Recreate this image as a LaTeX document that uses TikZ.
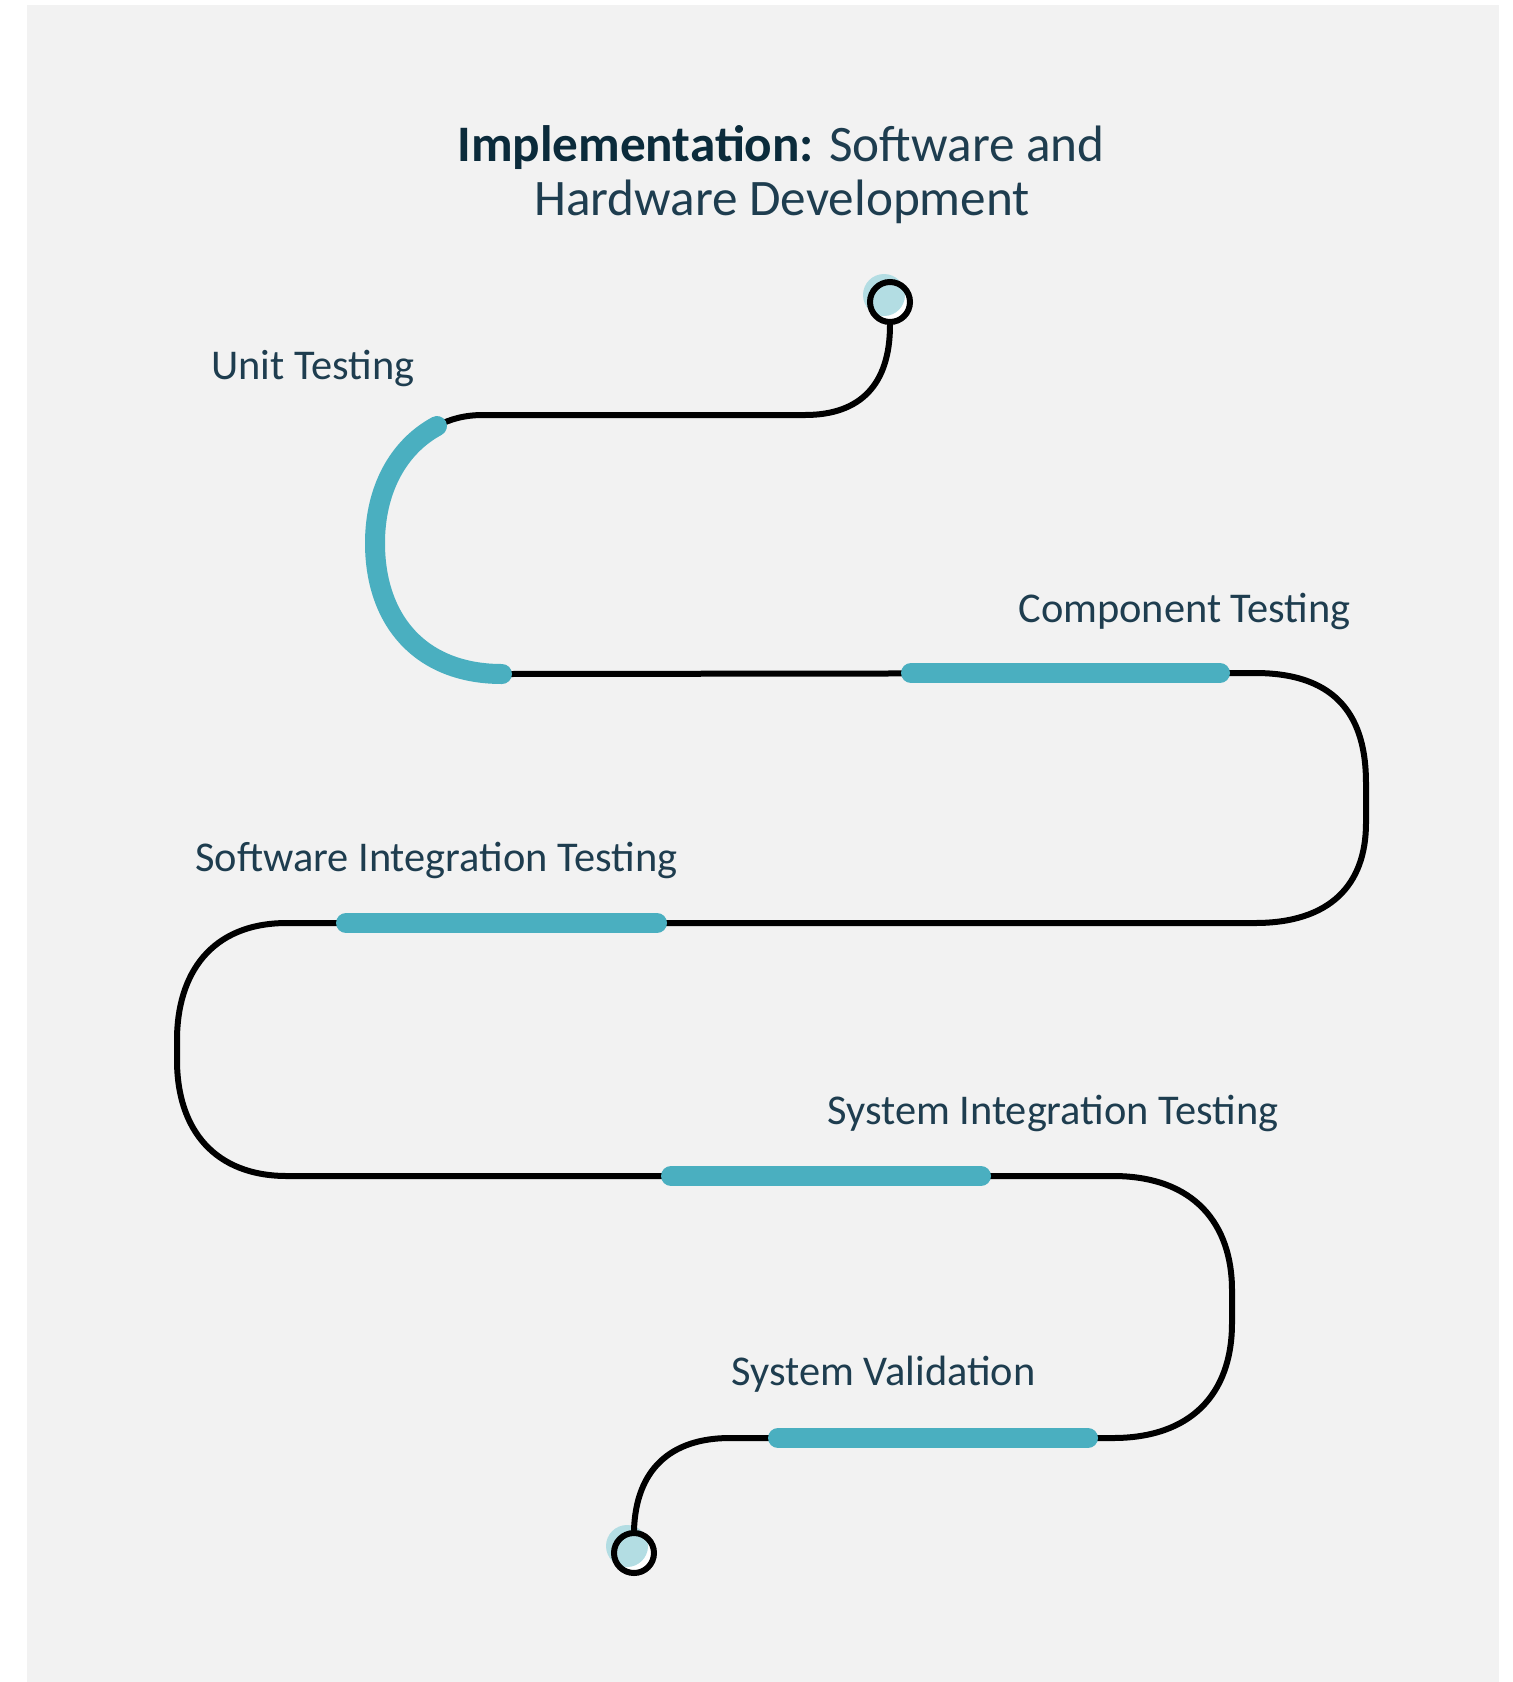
\documentclass[tikz,border=0pt]{standalone}
\usepackage{fontspec}
\setmainfont{Carlito}
\definecolor{bgc}{HTML}{F2F2F2}
\definecolor{tealc}{HTML}{4AAFC0}
\definecolor{lblue}{HTML}{B3DDE3}
\definecolor{txtc}{HTML}{1E3D4F}
\definecolor{titc}{HTML}{0B2B3B}
\tikzset{
  blackpath/.style={line width=3pt, black, line cap=round, line join=round},
  tealseg/.style={line width=10pt, tealc, line cap=round},
  label/.style={anchor=base west, inner sep=0pt, text=txtc, font=\fontsize{21.2pt}{26pt}\selectfont},
  titletext/.style={anchor=base, inner sep=0pt, text=txtc, font=\fontsize{25.6pt}{31pt}\selectfont},
  ring/.style={circle, draw=black, line width=3pt, minimum size=20pt, inner sep=0pt},
}
\begin{document}
\begin{tikzpicture}[x=0.5pt,y=-0.5pt]
\useasboundingbox (0,0) rectangle (1512,1682);
\fill[bgc] (27,5) rectangle (1499,1682);

% title
\node[titletext] (title1) at (781,161) {\textbf{\color{titc}Implementation:} Software and};
\node[titletext] (title2) at (782,215) {Hardware Development};

% start / end markers
\fill[white] (890,302) circle (10pt);
\fill[lblue] (884,295) circle (10.5pt);
\node[ring] (start) at (890,302) {};
\fill[white] (634,1553) circle (10pt);
\fill[lblue] (627,1546) circle (10.5pt);
\node[ring] (end) at (634,1553) {};

% black winding path
\draw[blackpath] (start.south) .. controls (890,385) and (860,415) .. (805,415)
  -- (483,415) .. controls (465,415) and (450,419) .. (437,426)
  .. controls (398,447) and (375,490) .. (375,543)
  .. controls (375,620) and (420,674) .. (505,674)
  -- (1255,673) .. controls (1340,673) and (1366,720) .. (1366,783)
  -- (1366,823) .. controls (1366,885) and (1330,923) .. (1255,923)
  -- (287,923) .. controls (210,923) and (177,975) .. (177,1040)
  -- (177,1060) .. controls (177,1130) and (215,1176) .. (287,1176)
  -- (1113,1176) .. controls (1195,1176) and (1232,1225) .. (1232,1290)
  -- (1232,1323) .. controls (1232,1395) and (1190,1438) .. (1113,1438)
  -- (730,1438) .. controls (670,1438) and (636,1470) .. (end.north);

% teal highlighted segments
\draw[tealseg] (437,426) .. controls (398,447) and (375,490) .. (375,543)
  .. controls (375,620) and (420,674) .. (502,674);
\draw[tealseg] (911,673) -- (1220,673);
\draw[tealseg] (346,923) -- (657,923);
\draw[tealseg] (671,1176) -- (981,1176);
\draw[tealseg] (778,1438) -- (1088,1438);

% labels
\node[label] (l1) at (211,379) {Unit Testing};
\node[label] (l2) at (1018,622) {Component Testing};
\node[label] (l3) at (195,871) {Software Integration Testing};
\node[label] (l4) at (827,1124) {System Integration Testing};
\node[label] (l5) at (731,1385) {System Validation};
\end{tikzpicture}
\end{document}
